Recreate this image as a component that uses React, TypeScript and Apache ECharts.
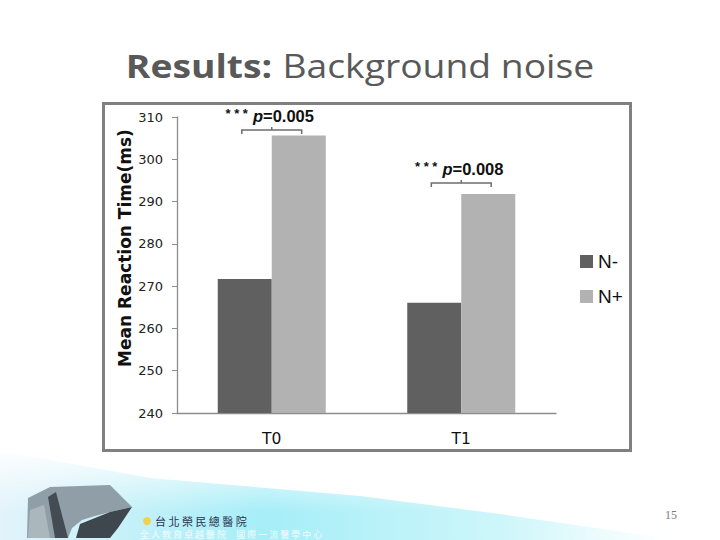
import React, { useEffect, useRef } from "react";
import * as echarts from "echarts";

const categories = ["T0", "T1"];
const seriesNames = ["N-", "N+"];
const nMinus = [271.7, 266.1];
const nPlus = [305.6, 291.8];
const bracketLevels = [306.9, 294.4];
const pLabels = ["p=0.005", "p=0.008"];
const yTicks = { min: 240, max: 310, interval: 10 };
const yAxisTitle = "Mean Reaction Time(ms)";

export default function App() {
  const ref = useRef<HTMLDivElement>(null);
  useEffect(() => {
    if (!ref.current) return;
    const chart = echarts.init(ref.current, undefined, { renderer: "svg" });
    const annData = categories.map((c, i) => [i, bracketLevels[i], pLabels[i]]);
    chart.setOption({
      animation: false,
      backgroundColor: "#ffffff",
      grid: { left: 177, right: 164, top: 117, bottom: 127, containLabel: false },
      legend: {
        orient: "vertical",
        left: 575,
        top: 247,
        itemWidth: 13,
        itemHeight: 13,
        itemGap: 16,
        icon: "rect",
        data: seriesNames,
        textStyle: { fontFamily: "Liberation Sans", fontSize: 19, color: "#111" },
      },
      xAxis: {
        type: "category",
        data: categories,
        axisLine: { lineStyle: { color: "#8c8c8c", width: 1.3 } },
        axisTick: { show: false },
        axisLabel: { fontFamily: "DejaVu Sans", fontSize: 15.5, color: "#111", margin: 18 },
      },
      yAxis: {
        type: "value",
        min: yTicks.min,
        max: yTicks.max,
        interval: yTicks.interval,
        axisLine: { show: true, lineStyle: { color: "#8c8c8c", width: 1.3 } },
        axisTick: { show: true, length: 5, lineStyle: { color: "#8c8c8c" } },
        splitLine: { show: false },
        axisLabel: { fontFamily: "DejaVu Sans", fontSize: 13, color: "#222", margin: 14 },
      },
      series: [
        {
          name: seriesNames[0],
          type: "bar",
          data: nMinus,
          barGap: "0%",
          barCategoryGap: "43%",
          itemStyle: { color: "#606060" },
        },
        {
          name: seriesNames[1],
          type: "bar",
          data: nPlus,
          barGap: "0%",
          barCategoryGap: "43%",
          itemStyle: { color: "#b2b2b2" },
        },
        {
          type: "custom",
          clip: false,
          silent: true,
          z: 5,
          data: annData,
          renderItem: (params: any, api: any) => {
            const idx = api.value(0);
            const yv = api.value(1);
            const pt = api.coord([idx, yv]);
            const band = api.size([1, 0])[0];
            const half = band * 0.158;
            const x1 = pt[0] - half;
            const x2 = pt[0] + half;
            const y = pt[1];
            const label = pLabels[params.dataIndex];
            return {
              type: "group",
              children: [
                {
                  type: "polyline",
                  shape: { points: [[x1, y + 4], [x1, y], [x2, y], [x2, y + 4]] },
                  style: { stroke: "#6e6e6e", lineWidth: 1.5, fill: "none" },
                },
                {
                  type: "line",
                  shape: { x1: pt[0], y1: y, x2: pt[0], y2: y - 3 },
                  style: { stroke: "#6e6e6e", lineWidth: 1.5 },
                },
                {
                  type: "text",
                  style: {
                    x: pt[0] - 2,
                    y: y - 14,
                    align: "center",
                    verticalAlign: "middle",
                    text: "{a|* * *}{b|p}{c|" + label.slice(1) + "}",
                    rich: {
                      a: { fontFamily: "Liberation Sans", fontWeight: "bold", fontSize: 13, fill: "#111", padding: [0, 5, 5, 0] },
                      b: { fontFamily: "Liberation Sans", fontWeight: "bold", fontStyle: "italic", fontSize: 16.5, fill: "#111" },
                      c: { fontFamily: "Liberation Sans", fontWeight: "bold", fontSize: 16.5, fill: "#111" },
                    },
                  },
                },
              ],
            };
          },
        },
      ],
      graphic: [
        {
          type: "rect",
          z: -10,
          shape: { x: 103.5, y: 103.5, width: 527, height: 347 },
          style: { fill: "none", stroke: "#808080", lineWidth: 3 },
        },
        {
          type: "text",
          x: 360,
          y: 65,
          scaleX: 1.13,
          style: {
            text: "{b|Results:}{s| }{r|Background noise}",
            align: "center",
            verticalAlign: "middle",
            rich: {
              b: { fontFamily: "Open Sans", fontWeight: "bold", fontSize: 33, fill: "#595959" },
              s: { fontFamily: "Open Sans", fontSize: 33, fill: "#595959", width: 9 },
              r: { fontFamily: "Open Sans", fontSize: 33, fill: "#595959" },
            },
          },
        },
        {
          type: "text",
          x: 125,
          y: 248,
          rotation: Math.PI / 2,
          style: {
            text: yAxisTitle,
            align: "center",
            verticalAlign: "middle",
            fontFamily: "DejaVu Sans",
            fontWeight: "bold",
            fontSize: 17,
            fill: "#111",
          },
        },
        {
          type: "polygon",
          z: -20,
          shape: { points: [[0, 452], [40, 458], [150, 478], [360, 496], [500, 514], [665, 538], [665, 540], [0, 540]] },
          style: {
            fill: new echarts.graphic.LinearGradient(0, 0, 1, 0, [
              { offset: 0, color: "#e2f3fa" },
              { offset: 0.4, color: "#a6eef8" },
              { offset: 0.75, color: "#cdf6fa" },
              { offset: 1, color: "#ffffff" },
            ]),
          },
        },
        {
          type: "rect",
          z: -18,
          shape: { x: 0, y: 452, width: 720, height: 60 },
          style: {
            fill: new echarts.graphic.LinearGradient(0, 0, 0, 1, [
              { offset: 0, color: "rgba(255,255,255,0.9)" },
              { offset: 1, color: "rgba(255,255,255,0)" },
            ]),
          },
        },
        {
          type: "polygon",
          z: -15,
          shape: { points: [[27, 538], [28, 498], [50, 487], [110, 485], [132, 507], [110, 512], [95, 516], [82, 520], [72, 528], [68, 538]] },
          style: { fill: "#909fa7" },
        },
        {
          type: "polygon",
          z: -14,
          shape: { points: [[48, 497], [56, 492], [68, 538], [55, 538]] },
          style: { fill: "#434c53" },
        },
        {
          type: "polygon",
          z: -14,
          shape: { points: [[76, 538], [80, 524], [95, 518], [110, 512], [132, 507], [118, 528], [110, 538]] },
          style: { fill: "#3e474e" },
        },
        {
          type: "polygon",
          z: -14,
          shape: { points: [[30, 510], [44, 505], [50, 538], [28, 538]] },
          style: { fill: "#aab7bd" },
        },
        {
          type: "circle",
          shape: { cx: 147, cy: 521, r: 4 },
          style: { fill: "#f2d24a" },
        },
        {
          type: "text",
          x: 155,
          y: 521,
          style: {
            text: "台 北 榮 民 總 醫 院",
            fontFamily: "Noto Sans CJK TC",
            fontSize: 11,
            fill: "#2a3550",
            verticalAlign: "middle",
          },
        },
        {
          type: "text",
          x: 140,
          y: 534,
          style: {
            text: "全 人 教 育 卓 越 醫 院     國 際 一 流 醫 學 中 心",
            fontFamily: "Noto Sans CJK TC",
            fontSize: 9,
            fill: "rgba(255,255,255,0.85)",
            verticalAlign: "middle",
          },
        },
        {
          type: "text",
          x: 671,
          y: 515,
          style: {
            text: "15",
            fontFamily: "Liberation Serif",
            fontSize: 12,
            fill: "#7a7a7a",
            align: "center",
            verticalAlign: "middle",
          },
        },
      ],
    });
    return () => chart.dispose();
  }, []);
  return (
    <div
      ref={ref}
      style={{ position: "fixed", left: 0, top: 0, width: 720, height: 540, background: "#fff" }}
    />
  );
}
